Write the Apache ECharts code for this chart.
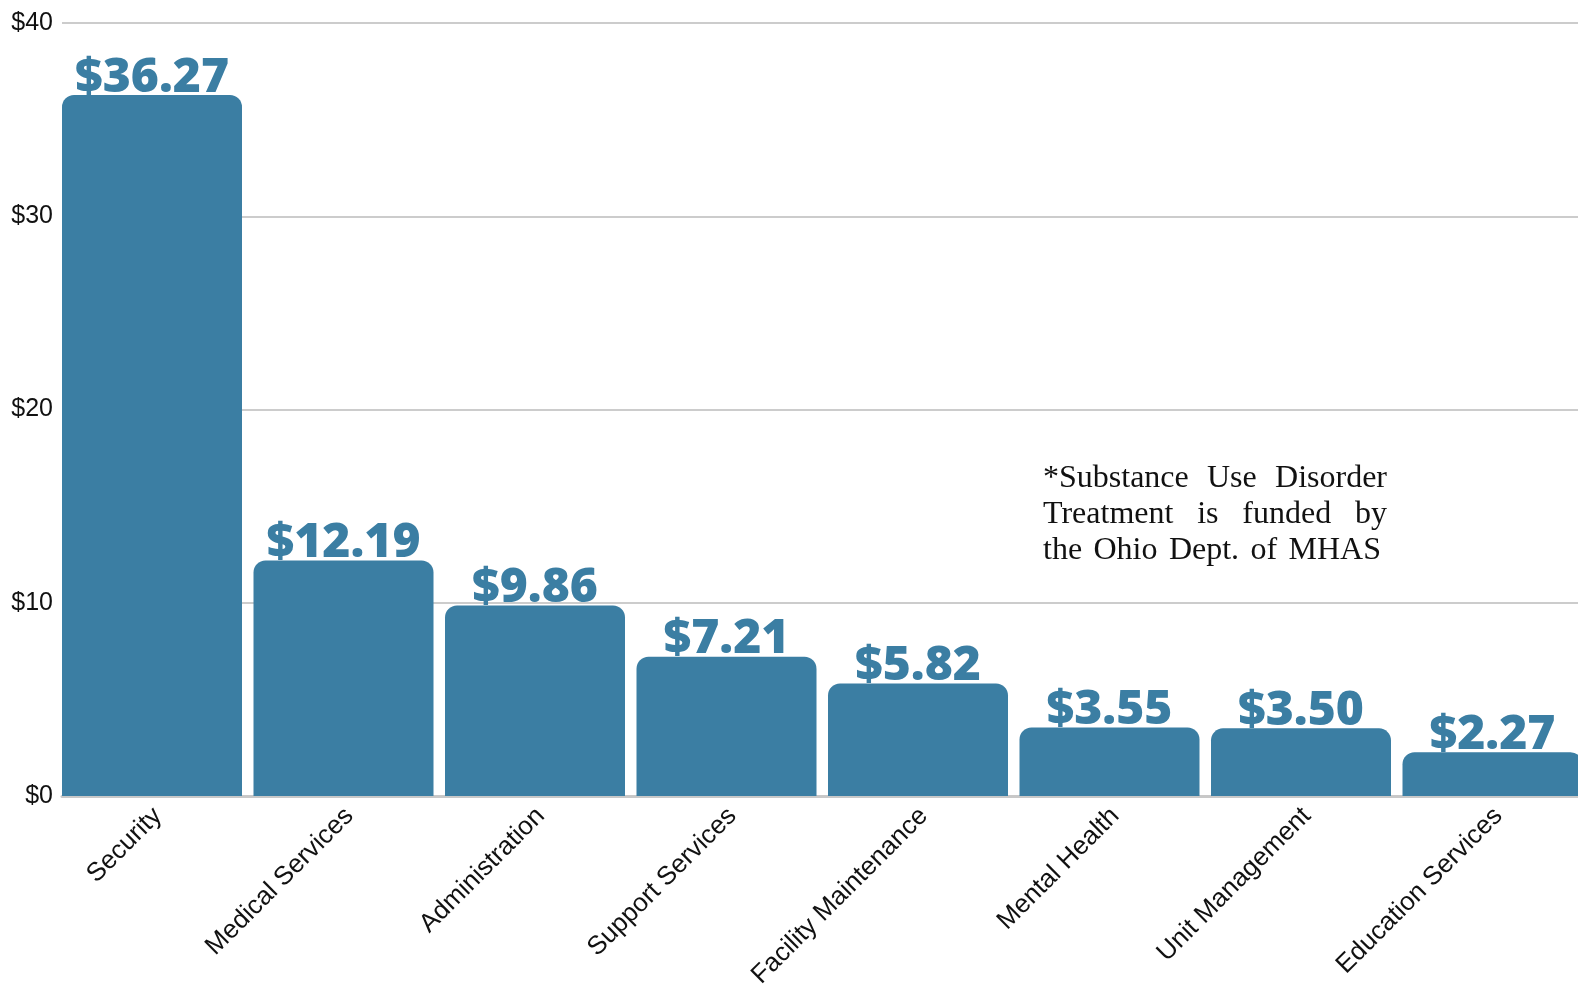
<!DOCTYPE html>
<html><head><meta charset="utf-8">
<script src="https://cdn.jsdelivr.net/npm/echarts@6/dist/echarts.min.js"></script>
<style>html,body{margin:0;padding:0;background:#fff}#c{width:1578px;height:984px}</style>
</head><body><div id="c"></div>
<script>
const categories = ["Security","Medical Services","Administration","Support Services","Facility Maintenance","Mental Health","Unit Management","Education Services"];
const values = [36.27, 12.19, 9.86, 7.21, 5.82, 3.55, 3.50, 2.27];
const yTicks = [0, 10, 20, 30, 40];
const noteLines = ["*Substance Use Disorder", "Treatment is funded by", "the Ohio Dept. of MHAS"];

const chart = echarts.init(document.getElementById('c'));
const blue = '#3b7ea3';

// justified note text
const noteFont = '32px "Liberation Serif"';
const ctx = document.createElement('canvas').getContext('2d');
ctx.font = noteFont;
const noteX = 1043, noteW = [344, 344, 338], noteY0 = 479, noteDy = 36;
const noteEls = [];
noteLines.forEach((line, i) => {
  const words = line.split(' ');
  const widths = words.map(w => ctx.measureText(w).width);
  const total = widths.reduce((a, b) => a + b, 0);
  const gap = (noteW[i] - total) / (words.length - 1);
  let x = noteX;
  words.forEach((w, j) => {
    noteEls.push({type: 'text', x: x, y: noteY0 + i * noteDy,
      style: {text: w, font: noteFont, fill: '#111', verticalAlign: 'middle', align: 'left'}});
    x += widths[j] + gap;
  });
});

chart.setOption({
  animation: false,
  grid: {left: 62, top: 23, width: 1532, height: 773, containLabel: false, outerBoundsMode: 'none'},
  xAxis: {
    type: 'category', data: categories,
    axisLine: {lineStyle: {color: '#c8c8c8', width: 3}},
    axisTick: {show: false},
    axisLabel: {rotate: 45, fontFamily: 'Liberation Sans', fontSize: 26, color: '#111', margin: 16, padding: [0, 0, 0, 0]}
  },
  yAxis: {
    type: 'value', min: yTicks[0], max: yTicks[yTicks.length-1], interval: 10,
    axisLine: {show: false}, axisTick: {show: false},
    splitLine: {lineStyle: {color: '#cccccc', width: 2}},
    axisLabel: {formatter: v => '$' + v, fontFamily: 'Liberation Sans', fontSize: 25, color: '#111', margin: 9}
  },
  series: [{
    type: 'bar', data: values, barWidth: 180, barGap: '0%', barCategoryGap: 0,
    itemStyle: {color: blue, borderRadius: [12, 12, 0, 0]},
    label: {show: true, position: 'top', distance: -7, formatter: p => '$' + p.value.toFixed(2),
      fontFamily: 'Open Sans', fontWeight: 800, fontSize: 48, color: blue}
  }, {
    type: 'bar', data: values.map(() => null), barWidth: 11.5, barGap: '0%', silent: true
  }],
  graphic: noteEls
});
</script></body></html>
